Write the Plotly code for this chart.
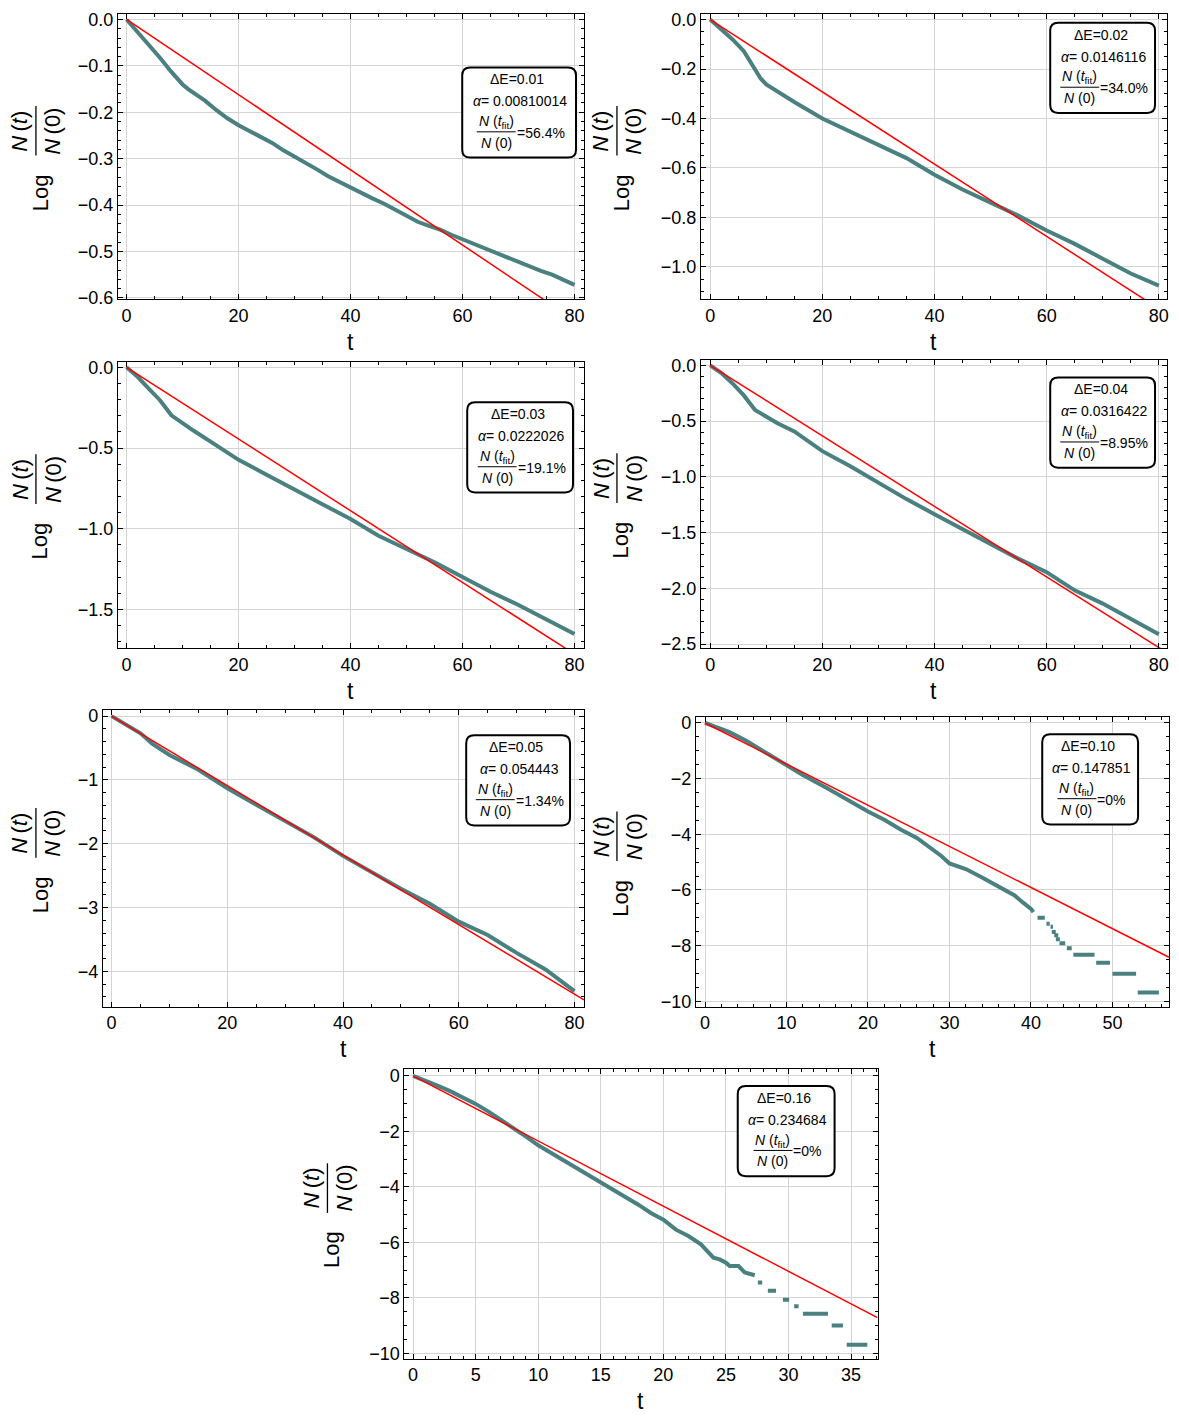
import plotly.graph_objects as go

W, H = 1179, 1424
FONT = "Liberation Sans, Arial, sans-serif"
GREEN = "rgb(74,128,128)"
RED = "rgb(255,0,0)"

# ---- values ----
de_labels = ["0.01", "0.02", "0.03", "0.04", "0.05", "0.10", "0.16"]
alpha_labels = ["0.00810014", "0.0146116", "0.0222026", "0.0316422",
                "0.054443", "0.147851", "0.234684"]
survival_labels = ["56.4%", "34.0%", "19.1%", "8.95%", "1.34%", "0%", "0%"]

t_de001 = [0, 2, 4, 6, 8, 9, 10, 11, 12, 14, 16, 18, 20, 22, 24, 26, 28, 30, 32, 34, 36,
           38, 40, 42, 44, 46, 48, 50, 52, 54, 56, 58, 60, 62, 64, 66, 68, 70, 72, 74,
           76, 78, 80]
n_de001 = [0, -0.027, -0.055, -0.083, -0.113, -0.127, -0.140, -0.150, -0.158, -0.175,
           -0.195, -0.213, -0.228, -0.240, -0.252, -0.266, -0.282, -0.295, -0.309,
           -0.323, -0.338, -0.350, -0.363, -0.376, -0.386, -0.397, -0.410, -0.424,
           -0.436, -0.445, -0.453, -0.464, -0.474, -0.483, -0.493, -0.504, -0.513,
           -0.522, -0.533, -0.542, -0.550, -0.561, -0.572]

t_de002 = [0, 2, 4, 6, 8, 9, 10, 12, 15, 20, 25, 30, 35, 40, 45, 50, 55, 60, 65, 70, 75, 80]
n_de002 = [0, -0.040, -0.080, -0.128, -0.205, -0.238, -0.262, -0.292, -0.333, -0.400,
           -0.453, -0.507, -0.560, -0.627, -0.687, -0.740, -0.793, -0.853, -0.907,
           -0.967, -1.027, -1.076]

t_de003 = [0, 2, 4, 6, 8, 10, 12, 15, 20, 25, 30, 35, 40, 45, 50, 55, 60, 65, 70, 75, 80]
n_de003 = [0, -0.060, -0.133, -0.205, -0.297, -0.348, -0.393, -0.460, -0.573, -0.665,
           -0.757, -0.849, -0.940, -1.043, -1.125, -1.207, -1.299, -1.390, -1.472,
           -1.564, -1.652]

t_de004 = [0, 2, 4, 6, 8, 10, 12, 15, 20, 25, 30, 35, 40, 45, 50, 55, 60, 65, 70, 75, 80]
n_de004 = [0, -0.070, -0.163, -0.270, -0.400, -0.460, -0.520, -0.593, -0.770, -0.905,
           -1.053, -1.200, -1.335, -1.469, -1.602, -1.736, -1.855, -2.018, -2.137,
           -2.270, -2.412]

t_de005 = [0, 3, 5, 7, 10, 15, 20, 25, 30, 35, 40, 45, 50, 55, 60, 65, 70, 75, 80]
n_de005 = [0, -0.16, -0.27, -0.43, -0.61, -0.84, -1.13, -1.39, -1.645, -1.90, -2.19,
           -2.45, -2.705, -2.94, -3.22, -3.43, -3.71, -3.97, -4.31]

t_de010 = [0, 3, 5, 7, 10, 12, 15, 18, 20, 22, 24, 26, 28, 29, 30, 32, 34, 36, 38, 39,
           40, 40.3]
n_de010 = [0, -0.33, -0.63, -0.98, -1.52, -1.87, -2.35, -2.86, -3.18, -3.48, -3.83,
           -4.13, -4.54, -4.78, -5.05, -5.25, -5.55, -5.88, -6.20, -6.45, -6.68, -6.80]
# plateaus in the tail: (t start, t end, level)
steps_de010 = [(40.8, 41.7, -7.00), (41.9, 42.3, -7.22), (42.4, 42.7, -7.32),
               (43.5, 44.2, -7.92), (44.4, 45.0, -8.10), (45.2, 47.8, -8.33),
               (48.0, 49.7, -8.62), (50.0, 52.9, -9.01), (53.1, 55.7, -9.69)]
dots_t_de010 = [42.8, 43.1, 43.3]
dots_n_de010 = [-7.51, -7.63, -7.77]

t_de016 = [0, 1, 2, 3, 4, 5, 6, 7, 8, 9, 10, 11, 12, 13, 14, 15, 16, 17, 18, 19, 20,
           21, 22, 23, 23.6, 24, 24.5, 25, 25.3, 26, 26.5, 27.1, 27.3]
n_de016 = [0, -0.17, -0.36, -0.56, -0.77, -1.01, -1.28, -1.57, -1.87, -2.18, -2.50,
           -2.77, -3.04, -3.30, -3.57, -3.81, -4.10, -4.35, -4.64, -4.94, -5.18, -5.54,
           -5.77, -6.07, -6.37, -6.55, -6.61, -6.73, -6.85, -6.85, -7.08, -7.18, -7.18]
steps_de016 = [(27.55, 27.9, -7.44), (28.35, 29.0, -7.74), (29.55, 30.05, -8.06),
               (30.45, 30.8, -8.30), (31.15, 33.15, -8.57), (33.45, 34.35, -8.99),
               (34.65, 36.3, -9.68)]

series = [
    dict(t=t_de001, n=n_de001),
    dict(t=t_de002, n=n_de002),
    dict(t=t_de003, n=n_de003),
    dict(t=t_de004, n=n_de004),
    dict(t=t_de005, n=n_de005),
    dict(t=t_de010, n=n_de010, steps=steps_de010, dots=(dots_t_de010, dots_n_de010)),
    dict(t=t_de016, n=n_de016, steps=steps_de016),
]

# ---- panel geometry (page pixels) ----
panels = [
    dict(frame=(118, 585, 10, 298), xr=(-1.57, 81.7), yr=(-0.603, 0.012), xd=20, xm=5,
         yd=0.1, ym=0.02, yfmt=".1f", box=(463, 577, 64), lab=40),
    dict(frame=(702, 1169, 10, 298), xr=(-1.67, 81.46), yr=(-1.131, 0.023), xd=20, xm=5,
         yd=0.2, ym=0.05, yfmt=".1f", box=(1052, 1157, 19), lab=622),
    dict(frame=(118, 585, 361, 650), xr=(-1.57, 81.7), yr=(-1.739, 0.035), xd=20, xm=5,
         yd=0.5, ym=0.1, yfmt=".1f", box=(468, 574, 402), lab=40),
    dict(frame=(702, 1169, 359, 650), xr=(-1.67, 81.46), yr=(-2.536, 0.05), xd=20, xm=5,
         yd=0.5, ym=0.1, yfmt=".1f", box=(1052, 1157, 377), lab=622),
    dict(frame=(103, 585, 713, 1012), xr=(-1.52, 81.65), yr=(-4.554, 0.088), xd=20, xm=5,
         yd=1, ym=0.2, yfmt="d", box=(467, 571, 738), lab=40),
    dict(frame=(697, 1171, 720, 1012), xr=(-1.13, 56.94), yr=(-10.2, 0.2), xd=10, xm=2,
         yd=2, ym=0.5, yfmt="d", box=(1044, 1140, 737), lab=622),
    dict(frame=(405, 879, 1075, 1367), xr=(-0.70, 37.11), yr=(-10.18, 0.24), xd=5, xm=1,
         yd=2, ym=0.5, yfmt="d", box=(739, 836, 1092), lab=332),
]

CHAR_EM = {"=": 0.584, ".": 0.278, "%": 0.889}


def text_width(s, size):
    return sum(CHAR_EM.get(c, 0.556) for c in s) * size


def fx(x):
    return x / W


def fy(y):
    return 1 - y / H


annotations = []
shapes = []


def note(x, y, text, size, angle=0, xanchor="center"):
    annotations.append(dict(x=fx(x), y=fy(y), xref="paper", yref="paper", text=text,
                            showarrow=False, textangle=angle, xanchor=xanchor,
                            yanchor="middle", borderpad=0,
                            font=dict(family=FONT, size=size, color="black")))


def line(x0, y0, x1, y1, width=1.2):
    shapes.append(dict(type="line", xref="paper", yref="paper", x0=fx(x0), y0=fy(y0),
                       x1=fx(x1), y1=fy(y1), line=dict(color="black", width=width)))


def rounded_box(L, R, T, B, r=8):
    def P(x, y):
        return f"{fx(x):.5f},{fy(y):.5f}"
    path = ("M " + P(L + r, T) + " L " + P(R - r, T) + " Q " + P(R, T) + " " + P(R, T + r)
            + " L " + P(R, B - r) + " Q " + P(R, B) + " " + P(R - r, B)
            + " L " + P(L + r, B) + " Q " + P(L, B) + " " + P(L, B - r)
            + " L " + P(L, T + r) + " Q " + P(L, T) + " " + P(L + r, T) + " Z")
    shapes.append(dict(type="path", xref="paper", yref="paper", path=path,
                       line=dict(color="black", width=2), fillcolor="white", layer="above"))


fig = go.Figure()
layout = {}

for i, (p, s) in enumerate(zip(panels, series)):
    k = "" if i == 0 else str(i + 1)
    L, R, T, B = p["frame"]
    common = dict(showline=True, linecolor="black", linewidth=1, mirror="allticks",
                  ticks="inside", ticklen=5, tickwidth=1, tickcolor="black",
                  showgrid=True, gridcolor="#d4d4d4", gridwidth=1, zeroline=False,
                  tick0=0, tickfont=dict(family=FONT, size=18, color="black"))
    layout["xaxis" + k] = dict(common, domain=[fx(L), fx(R)], anchor="y" + k,
                               range=list(p["xr"]), dtick=p["xd"],
                               minor=dict(dtick=p["xm"], tick0=0, ticks="inside",
                                          ticklen=3, tickcolor="black", showgrid=False))
    layout["yaxis" + k] = dict(common, domain=[fy(B), fy(T)], anchor="x" + k,
                               range=list(p["yr"]), dtick=p["yd"], tickformat=p["yfmt"],
                               minor=dict(dtick=p["ym"], tick0=0, ticks="inside",
                                          ticklen=3, tickcolor="black", showgrid=False))

    # simulation curve
    fig.add_trace(go.Scatter(x=s["t"], y=s["n"], xaxis="x" + k, yaxis="y" + k,
                             mode="lines", line=dict(color=GREEN, width=4),
                             hoverinfo="skip"))
    if "steps" in s:
        st, sn = [], []
        for t0, t1, lev in s["steps"]:
            st += [t0, t1, None]
            sn += [lev, lev, None]
        fig.add_trace(go.Scatter(x=st, y=sn, xaxis="x" + k, yaxis="y" + k, mode="lines",
                                 line=dict(color=GREEN, width=4), connectgaps=False,
                                 hoverinfo="skip"))
    if "dots" in s:
        fig.add_trace(go.Scatter(x=s["dots"][0], y=s["dots"][1], xaxis="x" + k,
                                 yaxis="y" + k, mode="markers",
                                 marker=dict(color=GREEN, size=4, symbol="square"),
                                 hoverinfo="skip"))

    # exponential fit, slope -alpha
    alpha = float(alpha_labels[i])
    t_fit = [0, p["xr"][1]]
    fig.add_trace(go.Scatter(x=t_fit, y=[-alpha * t for t in t_fit], xaxis="x" + k,
                             yaxis="y" + k, mode="lines", line=dict(color=RED, width=1.5),
                             hoverinfo="skip"))

    # axis labels
    cx = (L + R) / 2
    fc = (T + B) / 2
    note(cx, B + 43, "t", 23)
    lx = p["lab"]
    note(lx, fc + 36, "Log", 22, angle=-90)
    note(lx - 20, fc - 26, "<i>N</i>\u2009(<i>t</i>)", 22, angle=-90)
    note(lx + 13, fc - 26, "<i>N</i>\u2009(0)", 22, angle=-90)
    line(lx - 4, fc - 51, lx - 4, fc - 1, width=1.3)

    # info box
    bl, br, bt = p["box"]
    rounded_box(bl, br, bt, bt + 91)
    bc = (bl + br) / 2
    note(bc - 2, bt + 12, "\u0394E=" + de_labels[i], 14)
    note(bc + 1, bt + 34, "<i>\u03b1</i>= " + alpha_labels[i], 14)
    pct = "=" + survival_labels[i]
    bar_w = 39
    g0 = bc + 1 - (bar_w + text_width(pct, 14)) / 2
    note(g0 + bar_w / 2, bt + 55, "<i>N</i> (<i>t</i><sub>fit</sub>)", 14)
    line(g0, bt + 65, g0 + bar_w, bt + 65, width=1)
    note(g0 + bar_w / 2, bt + 76, "<i>N</i> (0)", 14)
    note(g0 + bar_w, bt + 66, pct, 14, xanchor="left")

fig.update_layout(**layout)
fig.update_layout(width=W, height=H, margin=dict(l=0, r=0, t=0, b=0),
                  paper_bgcolor="white", plot_bgcolor="white", showlegend=False,
                  annotations=annotations, shapes=shapes,
                  font=dict(family=FONT, color="black"))

# drop the browser's default body margin so the figure sits at the page origin
fig.write_html("out.html", post_script="document.body.style.margin = '0px';",
               config={"displayModeBar": False})
